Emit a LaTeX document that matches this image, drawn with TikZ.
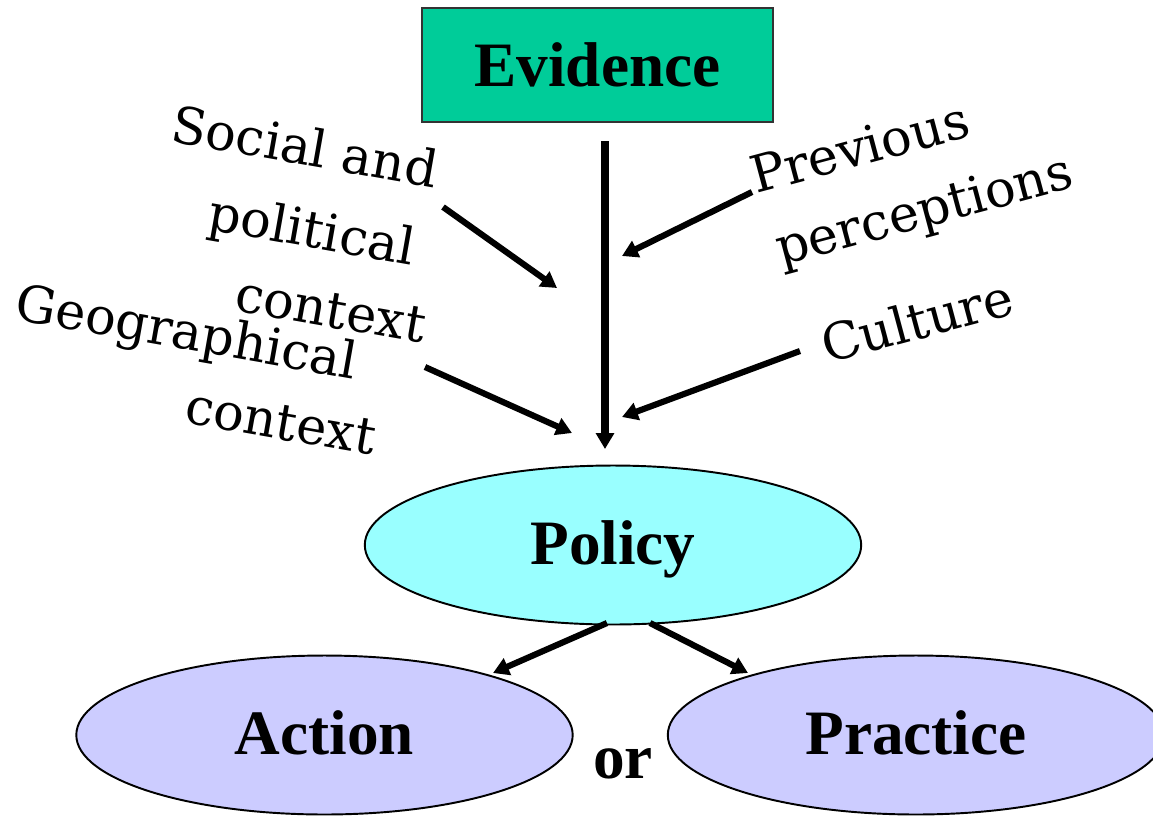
\documentclass[tikz,border=0pt]{standalone}
\usepackage{fontspec}
\setmainfont{Liberation Serif}
\newfontfamily\dvserif{DejaVu Serif}
\usetikzlibrary{arrows.meta,shapes.geometric}
\definecolor{xanhngoc}{HTML}{00CC99}
\definecolor{xanhnhat}{HTML}{99FFFF}
\definecolor{timnhat}{HTML}{CCCCFF}
\tikzset{
  nhan/.style={font=\dvserif\fontsize{29}{35}\selectfont,inner sep=0pt,anchor=base west},
  chudam/.style={font=\bfseries\fontsize{36}{43}\selectfont,text height=25pt,text depth=2.5pt},
  muiten/.style={line width=3.5pt,-{Triangle[length=9pt,width=10pt]}},
  elip/.style={ellipse,draw,line width=1.1pt,minimum width=9.93cm,minimum height=3.18cm,chudam}
}
\begin{document}
\begin{tikzpicture}[x=0.02cm,y=-0.02cm]
\useasboundingbox (0,0) rectangle (1153,816);
\node[draw=black!80,line width=1.2pt,fill=xanhngoc,minimum width=7.02cm,minimum height=2.28cm,chudam,text height=27pt] (evid) at (597.5,65) {Evidence}; % hộp trên cùng
\node[elip,fill=xanhnhat] (pol) at (613,545) {Policy};
\node[elip,fill=timnhat] (act) at (324.5,735) {Action};
\node[elip,fill=timnhat] (prac) at (916,735) {Practice};
\node[chudam,anchor=base west,inner sep=0pt,text height=,text depth=] (hoac) at (593,778) {or};
% các nhãn xoay
\node[nhan,rotate=-10] (xh1) at (169,141) {Social and};
\node[nhan,rotate=-10] (xh2) at (206,229) {political};
\node[nhan,rotate=-10] (xh3) at (233,310) {context};
\node[nhan,rotate=-10] (dl1) at (13,319) {Geographical};
\node[nhan,rotate=-10] (dl2) at (183,422) {context};
\node[nhan,rotate=15] (nt1) at (756,194) {Previous};
\node[nhan,rotate=15] (nt2) at (781,266) {perceptions};
\node[nhan,rotate=15] (vh) at (827,364) {Culture};
% đầu mút mũi tên
\coordinate (e0) at (605,141); \coordinate (e1) at (605,449);
\coordinate (s0) at (443,207); \coordinate (s1) at (557,288);
\coordinate (p0) at (752,192); \coordinate (p1) at (622,256);
\coordinate (g0) at (425,367); \coordinate (g1) at (572,433);
\coordinate (c0) at (800,351); \coordinate (c1) at (622,417);
\coordinate (a0) at (607,623); \coordinate (a1) at (493,673);
\coordinate (r0) at (650,623); \coordinate (r1) at (748,673);
\draw[muiten,line width=4pt] (e0) -- (e1);
\foreach \u/\v in {s0/s1,p0/p1,g0/g1,c0/c1,a0/a1,r0/r1}
  \draw[muiten] (\u) -- (\v);
\end{tikzpicture}
\end{document}
